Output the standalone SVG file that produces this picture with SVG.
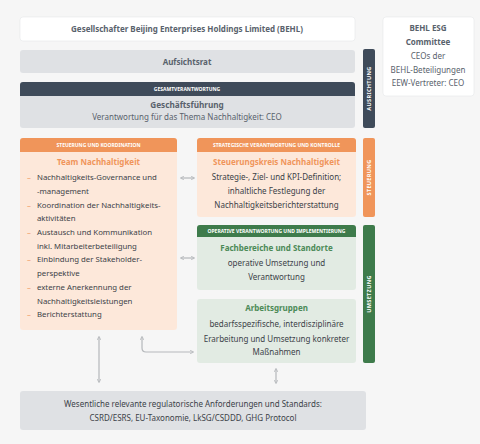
<svg xmlns="http://www.w3.org/2000/svg" width="480" height="444" viewBox="0 0 480 444">
<style>
text{font-family:"Noto Sans","Liberation Sans",sans-serif;fill:#3c4248;text-anchor:middle}
.b{font-weight:700}
.t{font-size:8px}
.h{font-size:5px;font-weight:700;fill:#ffffff}
.ot{fill:#f0955a;font-weight:700;font-size:8px}
.gt{fill:#4c8a57;font-weight:700;font-size:8px}
.g{fill:#59626c}
.li{text-anchor:start;font-size:7.8px}
.dash{fill:#f0955a;text-anchor:start;font-size:7.8px}
.white{fill:#ffffff;stroke:#e6e7e9;stroke-width:0.6}
.grey{fill:#dfe1e4}
.slate{fill:#3f4b5a}
.orange{fill:#f0955a}
.peach{fill:#fde8da}
.green{fill:#3e7b4b}
.lgreen{fill:#e2ebe3}
.vt{font-size:5.6px;font-weight:700;fill:#ffffff;letter-spacing:0.3px}
.conn{fill:none;stroke:#b5b8bb;stroke-width:1.2}
</style>
<defs>
<marker id="ah" viewBox="0 0 6 6" refX="5" refY="3" markerWidth="4" markerHeight="4" orient="auto-start-reverse" markerUnits="userSpaceOnUse"><path d="M0,0 L6,3 L0,6" fill="none" stroke="#b5b8bb" stroke-width="1.2"/></marker>
</defs>
<rect width="480" height="444" fill="#f6f6f6"/>

<g id="behl">
<rect class="white" x="20" y="17" width="335" height="24" rx="3"/>
<text class="b g" x="187" y="32" font-size="8">Gesellschafter Beijing Enterprises Holdings Limited (BEHL)</text>
</g>
<g id="aufsichtsrat">
<rect class="grey" x="20" y="50" width="335" height="23" rx="3"/>
<text class="b g" x="187" y="65" font-size="8">Aufsichtsrat</text>
</g>
<g id="geschaeftsfuehrung">
<rect class="grey" x="20" y="82" width="335" height="46" rx="3"/>
<path class="slate" d="M23,82 H352 A3,3 0 0 1 355,85 V96 H20 V85 A3,3 0 0 1 23,82 Z"/>
<text class="h" x="187" y="91">GESAMTVERANTWORTUNG</text>
<text class="b g" x="187" y="108" font-size="8.2">Geschäftsführung</text>
<text class="t g" x="187" y="120">Verantwortung für das Thema Nachhaltigkeit: CEO</text>
</g>
<g id="ausrichtung">
<rect class="slate" x="363" y="49" width="12" height="79" rx="2"/>
<text class="vt" transform="translate(371,88.5) rotate(-90)">AUSRICHTUNG</text>
</g>
<g id="esg-committee">
<rect class="white" x="383" y="17" width="91" height="79" rx="3"/>
<text class="b g" x="428" y="31" font-size="8">BEHL ESG</text>
<text class="b g" x="428" y="45" font-size="8">Committee</text>
<text class="t g" x="428" y="59">CEOs der</text>
<text class="t g" x="428" y="73">BEHL-Beteiligungen</text>
<text class="t g" x="428" y="86">EEW-Vertreter: CEO</text>
</g>

<g id="team-nachhaltigkeit">
<rect class="peach" x="20" y="138" width="157" height="192" rx="3"/>
<path class="orange" d="M23,138 H174 A3,3 0 0 1 177,141 V152 H20 V141 A3,3 0 0 1 23,138 Z"/>
<text class="h" x="98.5" y="147">STEUERUNG UND KOORDINATION</text>
<text class="ot" x="98.5" y="165">Team Nachhaltigkeit</text>
<text class="dash" x="27" y="180">–</text><text class="li" x="37" y="180">Nachhaltigkeits-Governance und</text>
<text class="li" x="37" y="194">-management</text>
<text class="dash" x="27" y="208">–</text><text class="li" x="37" y="208">Koordination der Nachhaltigkeits-</text>
<text class="li" x="37" y="221">aktivitäten</text>
<text class="dash" x="27" y="235">–</text><text class="li" x="37" y="235">Austausch und Kommunikation</text>
<text class="li" x="37" y="249">inkl. Mitarbeiterbeteiligung</text>
<text class="dash" x="27" y="262">–</text><text class="li" x="37" y="262">Einbindung der Stakeholder-</text>
<text class="li" x="37" y="276">perspektive</text>
<text class="dash" x="27" y="290">–</text><text class="li" x="37" y="290">externe Anerkennung der</text>
<text class="li" x="37" y="304">Nachhaltigkeitsleistungen</text>
<text class="dash" x="27" y="317">–</text><text class="li" x="37" y="317">Berichterstattung</text>
</g>

<g id="steuerungskreis">
<rect class="peach" x="197" y="138" width="159" height="79" rx="3"/>
<path class="orange" d="M200,138 H353 A3,3 0 0 1 356,141 V152 H197 V141 A3,3 0 0 1 200,138 Z"/>
<text class="h" x="276.5" y="147">STRATEGISCHE VERANTWORTUNG UND KONTROLLE</text>
<text class="ot" x="276.5" y="165">Steuerungskreis Nachhaltigkeit</text>
<text class="t" x="276.5" y="180">Strategie-, Ziel- und KPI-Definition;</text>
<text class="t" x="276.5" y="194">inhaltliche Festlegung der</text>
<text class="t" x="276.5" y="208">Nachhaltigkeitsberichterstattung</text>
</g>
<g id="steuerung">
<rect class="orange" x="363" y="138" width="12" height="79" rx="2"/>
<text class="vt" transform="translate(371,177.5) rotate(-90)">STEUERUNG</text>
</g>

<g id="fachbereiche">
<rect class="lgreen" x="197" y="225" width="159" height="65" rx="3"/>
<path class="green" d="M200,225 H353 A3,3 0 0 1 356,228 V237 H197 V228 A3,3 0 0 1 200,225 Z"/>
<text class="h" x="276.5" y="233">OPERATIVE VERANTWORTUNG UND IMPLEMENTIERUNG</text>
<text class="gt" x="276.5" y="251">Fachbereiche und Standorte</text>
<text class="t" x="276.5" y="266">operative Umsetzung und</text>
<text class="t" x="276.5" y="280">Verantwortung</text>
</g>
<g id="arbeitsgruppen">
<rect class="lgreen" x="197" y="299" width="159" height="64" rx="3"/>
<text class="gt" x="276.5" y="311">Arbeitsgruppen</text>
<text class="t" x="276.5" y="327">bedarfsspezifische, interdisziplinäre</text>
<text class="t" x="276.5" y="342">Erarbeitung und Umsetzung konkreter</text>
<text class="t" x="276.5" y="355">Maßnahmen</text>
</g>
<g id="umsetzung">
<rect class="green" x="363" y="225" width="12" height="138" rx="2"/>
<text class="vt" transform="translate(371,294) rotate(-90)">UMSETZUNG</text>
</g>

<g id="standards">
<rect class="grey" x="20" y="391" width="346" height="39" rx="3"/>
<text class="t" x="193" y="407" font-size="7.7">Wesentliche relevante regulatorische Anforderungen und Standards:</text>
<text class="t" x="193" y="421" font-size="7.7">CSRD/ESRS, EU-Taxonomie, LkSG/CSDDD, GHG Protocol</text>
</g>

<g id="connectors">
<path class="conn" d="M181,178 H194" marker-start="url(#ah)" marker-end="url(#ah)"/>
<path class="conn" d="M181,258 H194" marker-start="url(#ah)" marker-end="url(#ah)"/>
<path class="conn" d="M99,337 V382" marker-start="url(#ah)" marker-end="url(#ah)"/>
<path class="conn" d="M142,337 V348 Q142,352 146,352 H193" marker-start="url(#ah)" marker-end="url(#ah)"/>
<path class="conn" d="M276,369 V383" marker-start="url(#ah)" marker-end="url(#ah)"/>
</g>
</svg>
